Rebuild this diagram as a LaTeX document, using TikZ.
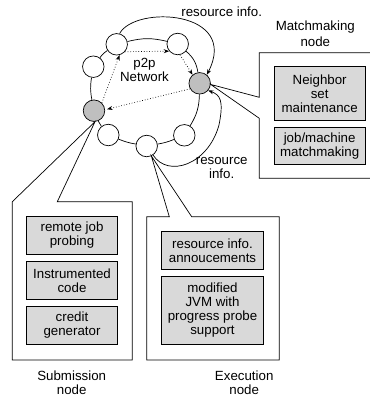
\documentclass[tikz,border=0pt]{standalone}
\usepackage{fontspec}
\setmainfont{Liberation Sans}
\usetikzlibrary{arrows.meta}
\begin{document}
\begin{tikzpicture}[x=1pt,y=-1pt,
  font=\fontsize{13.3}{14}\selectfont,
  line width=0.7pt,
  peer/.style={circle,draw,fill=white,minimum size=21.5pt,inner sep=0pt},
  hub/.style={peer,fill=gray!50},
  comp/.style={draw,fill=gray!30,align=center,inner sep=1pt},
  lbl/.style={align=center,inner sep=0pt},
  tip/.style={-{Stealth[length=5.5pt,width=4pt]}},
  p2p/.style={tip,dotted},
]
\useasboundingbox (0,0) rectangle (370,397);

% peers on the ring
\node[peer] (TL) at (116.7,44.3) {};
\node[peer] (TR) at (177.7,44) {};
\node[peer] (L)  at (93.3,66.7) {};
\node[hub]  (GR) at (199.7,83.3) {};
\node[hub]  (GL) at (94,110.7) {};
\node[peer] (BR) at (184.3,135.3) {};
\node[peer] (BM) at (146.7,146) {};
\node[peer] (BL) at (108.3,135) {};

% ring
\draw (TL) to[bend left=14] (TR);
\draw (TR) to[bend left=20] (GR);
\draw (GR) to[bend left=15] (BR);
\draw (BR) to[bend left=6] (BM);
\draw (BM) to[bend left=6] (BL);
\draw (BL) to[bend left=8] (GL);
\draw (GL) to[bend left=10] (L);
\draw (L) to[bend left=10] (TL);

% p2p dotted messages
\draw[p2p] (GL.45) -- (TL.-75);
\draw[p2p] (TL.-42) -- (TR.220);
\draw[p2p] (TR.-78) -- (GR.130);
\draw[p2p, shorten >=2pt] (GR.210) -- (GL.5);

\node[lbl] (net) at (144.5,69.5) {p2p\\Network};

% resource info. arrows
\draw[tip] (TL.75) .. controls (135,5) and (240,10) .. (GR.50);
\draw[tip] (BM.-55) .. controls (168,178) and (208,165) .. (219,125)
  .. controls (224,100) and (220,95) .. (GR.-40);
\node[lbl] (ri1) at (221.7,11.7) {resource info.};
\node[lbl] (ri2) at (221.7,168.3) {resource\\info.};

% matchmaking callout
\coordinate (mA) at (371,52.7);
\coordinate (mB) at (259.3,52.7);
\coordinate (mC) at (259.3,97.3);
\coordinate (mD) at (259.3,118.3);
\coordinate (mE) at (259.3,178.3);
\coordinate (mF) at (371,178.3);
\draw (mA) -- (mB) -- (mC) -- (GR.-6) -- (mD) -- (mE) -- (mF);
\node[comp, minimum width=90.7pt, minimum height=53.3pt] (nb) at (319.65,93.35) {Neighbor\\set\\maintenance};
\node[comp, minimum width=90.7pt, minimum height=36.7pt] (jm) at (319.65,145.65) {job/machine\\matchmaking};
\node[lbl, font=\fontsize{13.3}{16}\selectfont] (mmn) at (315.3,33.5) {Matchmaking\\node};

% submission callout
\coordinate (sA) at (12.3,201.7);
\coordinate (sB) at (57.3,201.7);
\coordinate (sC) at (132.3,201.7);
\coordinate (sD) at (132.3,360);
\coordinate (sE) at (12.3,360);
\draw (sA) -- (GL.-85) -- (sB) -- (sC) -- (sD) -- (sE) -- cycle;
\node[comp, minimum width=90.6pt, minimum height=37.3pt] (rj) at (72,235.35) {remote job\\probing};
\node[comp, minimum width=90.6pt, minimum height=37.6pt] (ic) at (72,280.5) {Instrumented\\code};
\node[comp, minimum width=90.6pt, minimum height=37.6pt] (cg) at (72,325.5) {credit\\generator};
\node[lbl] (subn) at (71.7,382.3) {Submission\\node};

% execution callout
\coordinate (eA) at (146.7,216.7);
\coordinate (eB) at (169.3,216.7);
\coordinate (eC) at (191.7,216.7);
\coordinate (eD) at (279.3,216.7);
\coordinate (eE) at (279.3,360);
\coordinate (eF) at (146.7,360);
\draw (eB) -- (BM.-65) -- (eC) -- (eD) -- (eE) -- (eF) -- (eA) -- cycle;
\node[comp, minimum width=101.6pt, minimum height=37.6pt] (ria) at (212.5,250.5) {resource info.\\annoucements};
\node[comp, minimum width=101.6pt, minimum height=67.6pt] (jvm) at (212.5,310.5) {modified\\JVM with\\progress probe\\support};
\node[lbl] (exn) at (244.2,382.3) {Execution\\node};
\end{tikzpicture}
\end{document}
